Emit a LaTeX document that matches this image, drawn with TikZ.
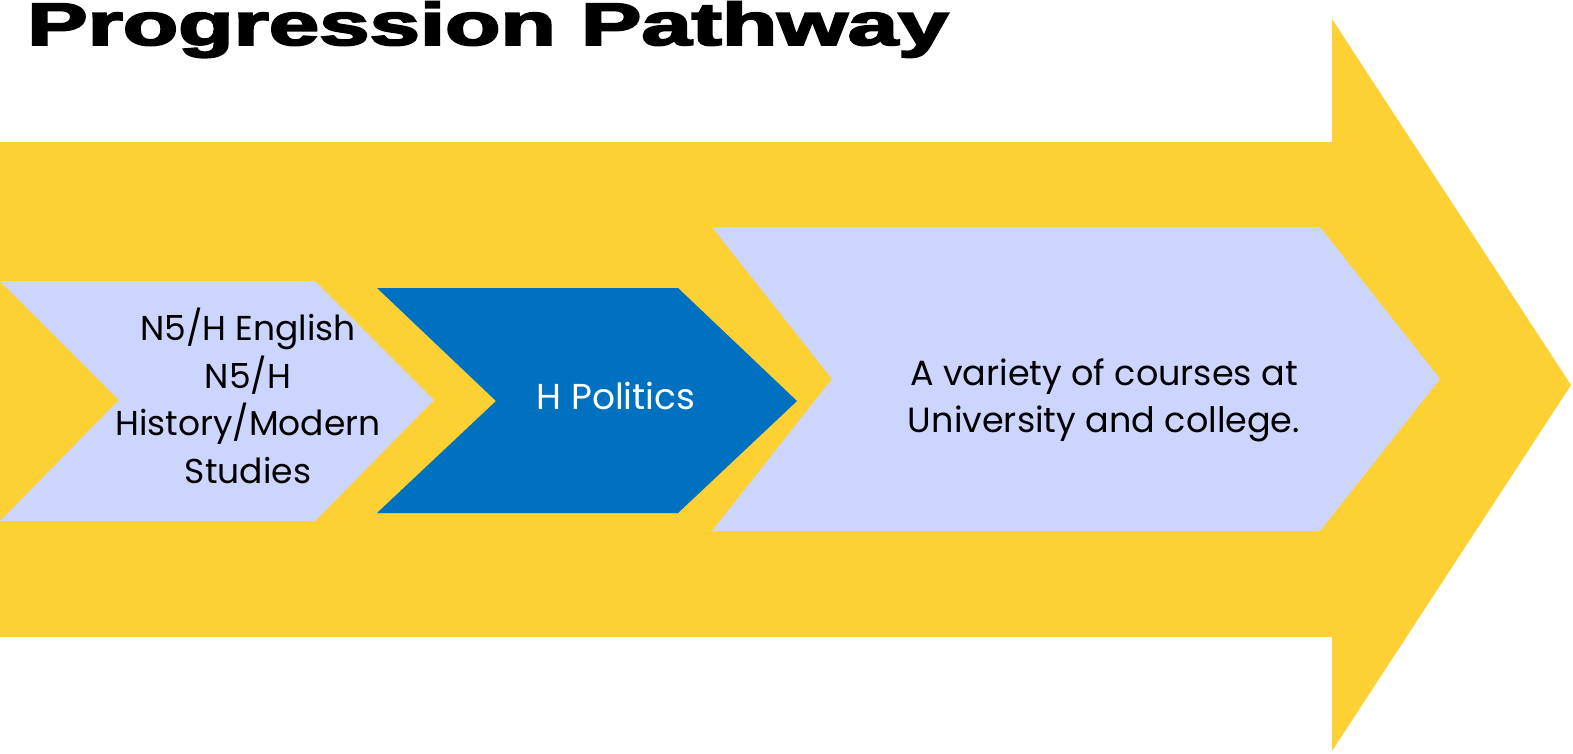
\documentclass[tikz,border=0pt]{standalone}
\usepackage{fontspec}
\setmainfont{Poppins}
\newfontfamily\titlefont{Liberation Sans Bold}[FakeBold=3]
\definecolor{pathyellow}{RGB}{253,208,51}
\definecolor{pathlilac}{RGB}{204,213,253}
\definecolor{pathblue}{RGB}{0,112,192}
\begin{document}
\begin{tikzpicture}[x=1pt, y=-1pt,
  step text/.style = {align=center, inner sep=0pt, font=\fontsize{34.5}{47.7}\selectfont}]
\useasboundingbox (0,0) rectangle (1573,753);
% big arrow
\fill[pathyellow] (0,142) -- (1332,142) -- (1332,19) -- (1571,385) -- (1332,751) -- (1332,637) -- (0,637) -- cycle;
% chevrons
\fill[pathlilac] (0,281) -- (315,281) -- (434,400) -- (315,521) -- (0,521) -- (119,400) -- cycle;
\fill[pathblue] (377,288) -- (678,288) -- (797,401) -- (678,513) -- (377,513) -- (496,401) -- cycle;
\fill[pathlilac] (712,227) -- (1320,227) -- (1440,379) -- (1320,531) -- (712,531) -- (832,379) -- cycle;
\node (title) [anchor=base west, inner sep=0pt] at (27,45) {\titlefont\fontsize{60}{60}\selectfont\scalebox{1.51}[1]{Progression Pathway}};
\node[step text] (nat5) at (248,396) {N5/H English\\N5/H\\History/Modern\\Studies};
\node[step text, text=white, font=\fontsize{36}{47.5}\selectfont] (higher) at (616,396) {H Politics};
\node[step text, font=\fontsize{35}{47}\selectfont] (uni) at (1104,400) {A variety of courses at\\University and college.};
\end{tikzpicture}
\end{document}
